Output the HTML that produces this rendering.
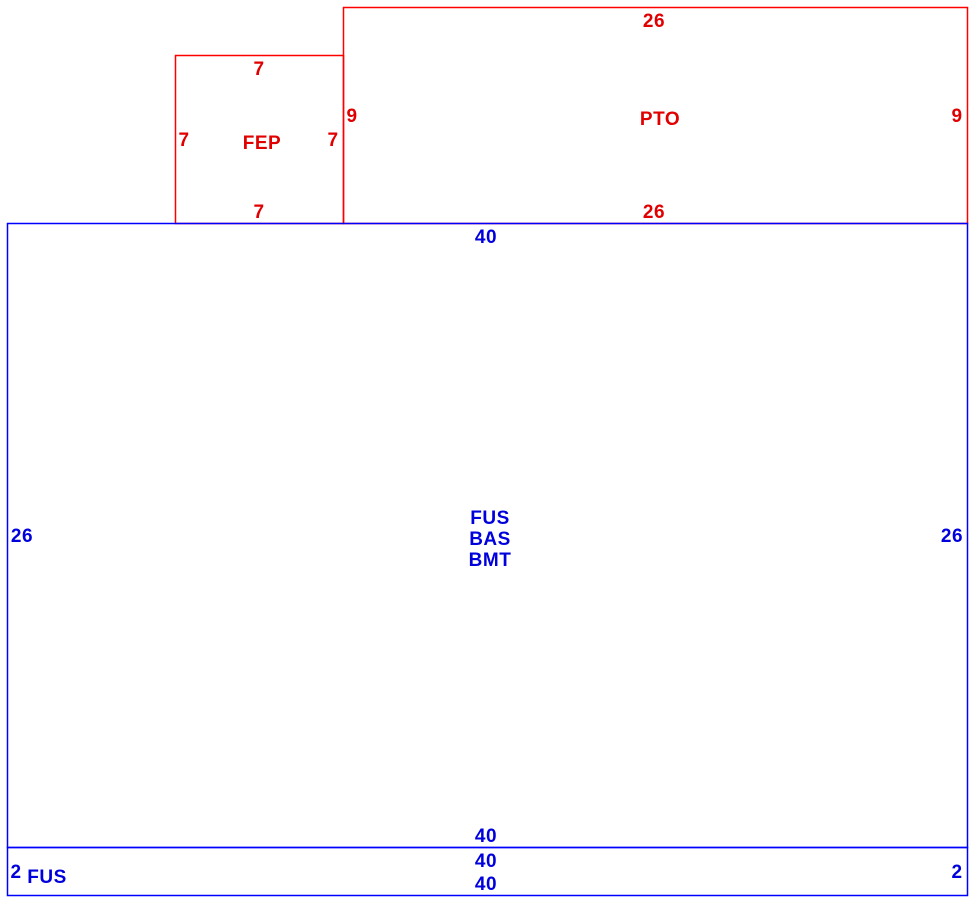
<!DOCTYPE html>
<html><head><meta charset="utf-8"><style>
html,body{margin:0;padding:0;background:#fff;width:970px;height:907px;overflow:hidden}
text{font-family:"Liberation Sans",Arial,sans-serif;font-weight:bold;font-size:19px;text-anchor:middle;letter-spacing:0.5px}
.r{fill:#e00000}.b{fill:#0000dd}
.rl{fill:none;stroke:#ff0000;stroke-width:1.5px}
.bl{fill:none;stroke:#0000ff;stroke-width:1.5px}
</style></head><body>
<svg width="970" height="907" xmlns="http://www.w3.org/2000/svg">
<rect class="rl" x="175.5" y="55.5" width="168" height="168"/>
<rect class="rl" x="343.5" y="7.5" width="624" height="216"/>
<rect class="bl" x="7.5" y="223.5" width="960" height="624"/>
<rect class="bl" x="7.5" y="847.5" width="960" height="48"/>
<g class="r">
<text x="259" y="75">7</text>
<text x="184" y="146">7</text>
<text x="333" y="146">7</text>
<text x="259" y="218">7</text>
<text x="262" y="149">FEP</text>
<text x="654" y="27">26</text>
<text x="660" y="125">PTO</text>
<text x="352" y="122">9</text>
<text x="957" y="122">9</text>
<text x="654" y="218">26</text>
</g>
<g class="b">
<text x="486" y="243">40</text>
<text x="490" y="524">FUS</text>
<text x="490" y="545">BAS</text>
<text x="490" y="566">BMT</text>
<text x="22" y="542">26</text>
<text x="952" y="542">26</text>
<text x="486" y="842">40</text>
<text x="486" y="867">40</text>
<text x="486" y="890">40</text>
<text x="16" y="878">2</text>
<text x="957" y="878">2</text>
<text x="47" y="883">FUS</text>
</g>
</svg>
</body></html>
